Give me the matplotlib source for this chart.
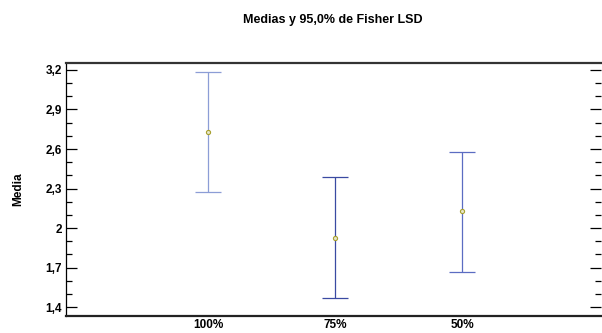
import numpy as np
import matplotlib.pyplot as plt
from matplotlib.ticker import FuncFormatter

plt.rcParams["font.family"] = ["Liberation Sans", "DejaVu Sans"]

# Data: means and Fisher LSD intervals
groups = ["100%", "75%", "50%"]
means = [2.729, 1.927, 2.132]
lower = [2.274, 1.469, 1.669]
upper = [3.185, 2.388, 2.580]
y_ticks = [1.4, 1.7, 2.0, 2.3, 2.6, 2.9, 3.2]
bar_colors = ["#8c9dd6", "#3a4aa2", "#5b6cc2"]

fig = plt.figure(figsize=(6.02, 3.33), dpi=100)
ax = fig.add_axes([66 / 602, 1 - 316 / 333, 535 / 602, 253 / 333])

x = np.arange(1, len(groups) + 1)
for i in range(len(groups)):
    ax.errorbar(
        x[i],
        means[i],
        yerr=[[means[i] - lower[i]], [upper[i] - means[i]]],
        fmt="none",
        ecolor=bar_colors[i],
        elinewidth=0.9,
        capsize=9.4,
        capthick=0.9,
    )
    ax.plot(
        x[i],
        means[i],
        marker="o",
        markersize=3.0,
        markerfacecolor="#e6e6c8",
        markeredgecolor="#a8a030",
        markeredgewidth=0.8,
        linestyle="none",
    )

ax.set_xlim(-0.118, 4.094)
ax.set_ylim(1.332, 3.253)

ax.set_xticks(x)
ax.set_xticklabels(groups, fontsize=8.5, fontweight="bold")
ax.tick_params(axis="x", length=0, pad=2)

ax.set_yticks(y_ticks)
ax.set_yticks(np.round(np.arange(1.4, 3.25, 0.1), 2), minor=True)
ax.yaxis.set_major_formatter(
    FuncFormatter(lambda v, p: ("%g" % round(v, 2)).replace(".", ","))
)
ax.tick_params(axis="y", which="major", direction="in", length=7.8, width=0.9,
               right=True, labelsize=8.5, pad=3)
ax.tick_params(axis="y", which="minor", direction="in", length=4.2, width=0.9,
               right=True)
for lbl in ax.get_yticklabels():
    lbl.set_fontweight("bold")

ax.spines["top"].set_linewidth(1.6)
ax.spines["top"].set_color("#333333")
ax.spines["bottom"].set_linewidth(1.6)
ax.spines["bottom"].set_color("#222222")
ax.spines["left"].set_linewidth(0.9)
ax.spines["right"].set_visible(False)

ax.set_ylabel("Media", fontsize=8.5, fontweight="bold", labelpad=15)
fig.text(333 / 602, 1 - 20 / 333, "Medias y 95,0% de Fisher LSD",
         ha="center", va="center", fontsize=9, fontweight="bold")

fig.savefig("out.png", dpi=100)
